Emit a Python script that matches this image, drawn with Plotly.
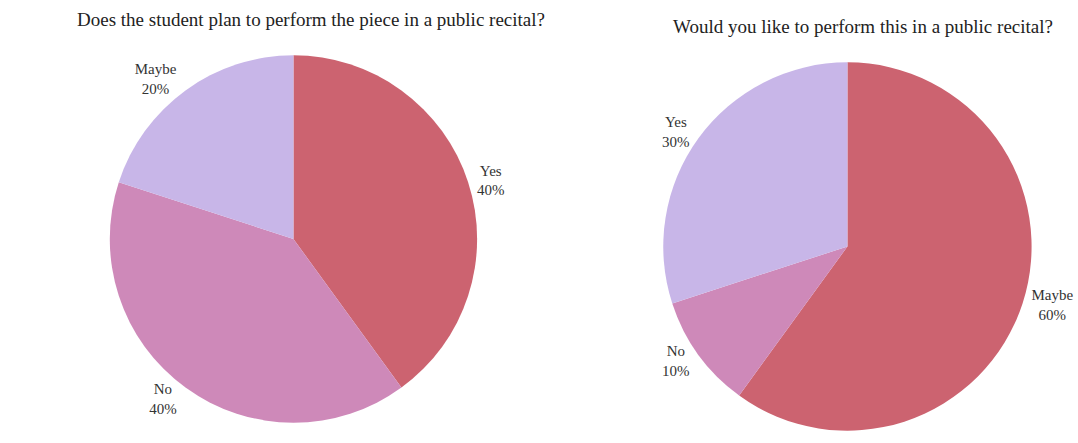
import plotly.graph_objects as go

# Survey answers, in slice order (clockwise from 12 o'clock)
left_title = "Does the student plan to perform the piece in a public recital?"
left_labels = ["Yes", "No", "Maybe"]
left_values = [40, 40, 20]

right_title = "Would you like to perform this in a public recital?"
right_labels = ["Maybe", "No", "Yes"]
right_values = [60, 10, 30]

# Slice colours follow slice position, not the answer
slice_colors = ["#cc6370", "#ce89b9", "#c8b6e8"]

W, H = 1078, 443
FONT = "Liberation Serif, DejaVu Serif, serif"
TEXT_COLOR = "#333333"


def pie(labels, values, xdom, ydom):
    return go.Pie(
        labels=labels,
        values=values,
        sort=False,
        direction="clockwise",
        rotation=0,
        marker=dict(colors=slice_colors, line=dict(width=0)),
        textposition="outside",
        texttemplate="%{label}<br>%{percent:.0%}",
        textfont=dict(family=FONT, size=15, color=TEXT_COLOR),
        domain=dict(x=xdom, y=ydom),
        showlegend=False,
        hoverinfo="label+percent",
    )


fig = go.Figure()
fig.add_trace(pie(left_labels, left_values, [110 / W, 478 / W], [1 - 423 / H, 1 - 55 / H]))
fig.add_trace(pie(right_labels, right_values, [664.5 / W, 1033.5 / W], [1 - 431 / H, 1 - 62 / H]))

fig.add_annotation(text=left_title, x=312 / W, y=1 - 20 / H, xref="paper", yref="paper",
                   xanchor="center", yanchor="middle", showarrow=False,
                   font=dict(family=FONT, size=19, color="#222222"))
fig.add_annotation(text=right_title, x=865 / W, y=1 - 27 / H, xref="paper", yref="paper",
                   xanchor="center", yanchor="middle", showarrow=False,
                   font=dict(family=FONT, size=19, color="#222222"))

fig.update_layout(
    width=W,
    height=H,
    margin=dict(l=0, r=0, t=0, b=0),
    paper_bgcolor="white",
    plot_bgcolor="white",
)

fig.write_html("out.html")
